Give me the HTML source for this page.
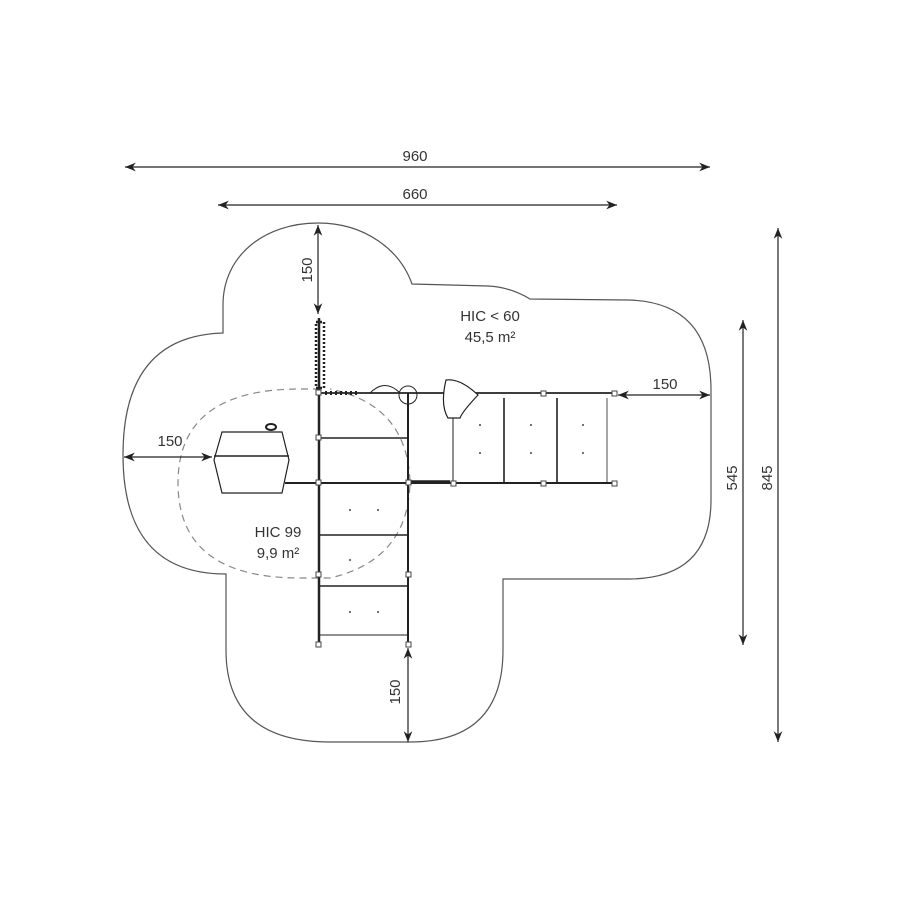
<!DOCTYPE html>
<html><head><meta charset="utf-8"><style>
html,body{margin:0;padding:0;background:#fff;}
svg{display:block;}
text{font-family:"Liberation Sans",sans-serif;font-size:15px;fill:#333;}
</style></head><body>
<svg width="900" height="900" viewBox="0 0 900 900" xmlns="http://www.w3.org/2000/svg">
<defs>
<marker id="a" viewBox="0 0 10 10" refX="10" refY="5" markerWidth="9" markerHeight="9" orient="auto-start-reverse"><path d="M0,1 L10,5 L0,9 L3,5 z" fill="#222"/></marker>
</defs>
<path d="M223,333 L223,305 C223,255 265,223 318,223 C365,223 400,250 412,284 L488,286 Q510,287 530,299 L628,300 Q711,302 711,390 L711,500 Q711,578 630,579 L503,579 L503,650 Q503,742 410,742 L330,742 Q226,742 226,650 L226,574 Q123,574 123,455 Q123,336 223,333 Z" fill="none" stroke="#555" stroke-width="1.2"/>
<path d="M320,389 L300,389 Q178,389 178,483 Q178,578 300,578 L330,578 Q408,560 410,483 Q408,405 330,389" fill="none" stroke="#888" stroke-width="1.2" stroke-dasharray="7,5"/>
<g stroke="#222" stroke-width="1.2" fill="none">
<line x1="125" y1="167" x2="710" y2="167" marker-start="url(#a)" marker-end="url(#a)"/>
<line x1="218" y1="205" x2="617" y2="205" marker-start="url(#a)" marker-end="url(#a)"/>
<line x1="778" y1="228" x2="778" y2="742" marker-start="url(#a)" marker-end="url(#a)"/>
<line x1="743" y1="320" x2="743" y2="645" marker-start="url(#a)" marker-end="url(#a)"/>
<line x1="318" y1="225" x2="318" y2="314" marker-start="url(#a)" marker-end="url(#a)"/>
<line x1="408" y1="648" x2="408" y2="742" marker-start="url(#a)" marker-end="url(#a)"/>
<line x1="618" y1="395" x2="710" y2="395" marker-start="url(#a)" marker-end="url(#a)"/>
<line x1="124" y1="457" x2="212" y2="457" marker-start="url(#a)" marker-end="url(#a)"/>
</g>
<text x="415" y="161" text-anchor="middle">960</text>
<text x="415" y="199" text-anchor="middle">660</text>
<text x="665" y="389" text-anchor="middle">150</text>
<text x="170" y="446" text-anchor="middle">150</text>
<text transform="translate(312,270) rotate(-90)" text-anchor="middle">150</text>
<text transform="translate(400,692) rotate(-90)" text-anchor="middle">150</text>
<text transform="translate(737,478) rotate(-90)" text-anchor="middle">545</text>
<text transform="translate(772,478) rotate(-90)" text-anchor="middle">845</text>
<text x="490" y="321" text-anchor="middle">HIC &lt; 60</text>
<text x="490" y="342" text-anchor="middle">45,5 m²</text>
<text x="278" y="537" text-anchor="middle">HIC 99</text>
<text x="278" y="558" text-anchor="middle">9,9 m²</text>
<g stroke="#222" fill="none">
<line x1="319" y1="318" x2="319" y2="645" stroke-width="2.5"/>
<line x1="408" y1="393" x2="408" y2="645" stroke-width="2"/>
<line x1="319" y1="393" x2="615" y2="393" stroke-width="1.8"/>
<line x1="285" y1="483" x2="615" y2="483" stroke-width="2"/>
<line x1="319" y1="438" x2="408" y2="438" stroke-width="1.6"/>
<line x1="319" y1="535" x2="408" y2="535" stroke-width="1.6"/>
<line x1="319" y1="586" x2="408" y2="586" stroke-width="1.6"/>
<line x1="319" y1="635" x2="408" y2="635" stroke-width="1"/>
<line x1="453" y1="398" x2="453" y2="483" stroke-width="1"/>
<line x1="504" y1="398" x2="504" y2="483" stroke-width="1.6"/>
<line x1="557" y1="398" x2="557" y2="483" stroke-width="1.6"/>
<line x1="607" y1="398" x2="607" y2="483" stroke-width="0.8"/>
<rect x="316" y="322" width="8" height="66" stroke-width="2.5" stroke-dasharray="2,2"/>
<line x1="325" y1="393" x2="360" y2="393" stroke-width="4" stroke-dasharray="2,3"/>
<line x1="410" y1="482" x2="450" y2="482" stroke-width="3.5"/>
<path d="M370,393 Q385,378 400,393" stroke-width="1"/>
<circle cx="408" cy="395" r="9" stroke-width="1"/>
<path d="M446,380 Q460,378 478,395 Q462,412 460,418 L448,418 Q440,405 446,380 Z" stroke-width="1.2" fill="#fff"/>
<path d="M222,432 L282,432 L289,460 L282,493 L222,493 L214,460 Z" stroke-width="1.2" fill="#fff"/>
<line x1="214" y1="456" x2="289" y2="456" stroke-width="1.5"/>
<ellipse cx="271" cy="427" rx="5" ry="3" stroke-width="2"/>
</g>
<g fill="#444">
<circle cx="480" cy="425" r="1"/><circle cx="480" cy="453" r="1"/><circle cx="531" cy="425" r="1"/><circle cx="531" cy="453" r="1"/><circle cx="583" cy="425" r="1"/><circle cx="583" cy="453" r="1"/>
<circle cx="350" cy="510" r="1"/><circle cx="378" cy="510" r="1"/><circle cx="350" cy="560" r="1"/><circle cx="350" cy="612" r="1"/><circle cx="378" cy="612" r="1"/>
</g>
<g fill="#fff" stroke="#444" stroke-width="1">
<rect x="316" y="390" width="5" height="5"/><rect x="316" y="435" width="5" height="5"/><rect x="316" y="480" width="5" height="5"/>
<rect x="316" y="572" width="5" height="5"/><rect x="316" y="642" width="5" height="5"/>
<rect x="406" y="480" width="5" height="5"/><rect x="406" y="572" width="5" height="5"/><rect x="406" y="642" width="5" height="5"/>
<rect x="451" y="481" width="5" height="5"/><rect x="541" y="481" width="5" height="5"/><rect x="612" y="481" width="5" height="5"/>
<rect x="541" y="391" width="5" height="5"/><rect x="612" y="391" width="5" height="5"/>
</g>
</svg>
</body></html>
